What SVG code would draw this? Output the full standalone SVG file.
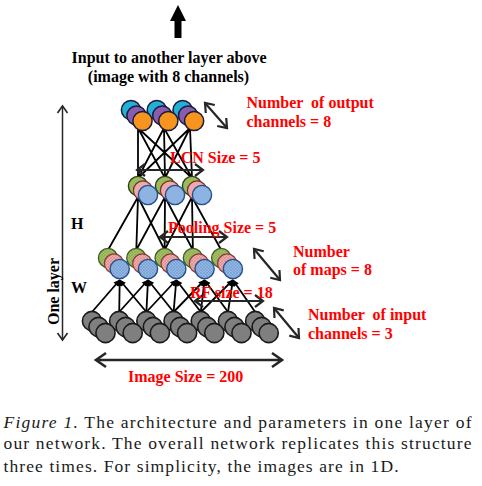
<svg xmlns="http://www.w3.org/2000/svg" width="482" height="486" viewBox="0 0 482 486">
<defs>
<style>
.lbl{font-family:"Liberation Serif","Times New Roman",serif;font-weight:bold;font-size:16px}
.red{fill:#ff0000}
.blk{fill:#000}
.cap{font-family:"Liberation Serif","Times New Roman",serif;font-size:17.5px;fill:#1a1a1a}
.conn{stroke:#000;stroke-width:1.8;fill:none}
.up{stroke:#000;stroke-width:1.8;fill:none;marker-end:url(#ah)}
.dbl{stroke:#262626;stroke-width:2.2;fill:none;marker-start:url(#chev);marker-end:url(#chev)}
.dblb{stroke:#262626;stroke-width:2.6;fill:none;marker-start:url(#chevb);marker-end:url(#chevb)}
.vline{stroke:#262626;stroke-width:1.5;fill:none;marker-start:url(#chevs);marker-end:url(#chevs)}
.cy{fill:#22b0d8;stroke:#1b1b3a;stroke-width:1.5}
.pu{fill:#8a5cb0;stroke:#1b1b3a;stroke-width:1.5}
.or{fill:#f7941e;stroke:#1b1b3a;stroke-width:1.5}
.gr{fill:#9bbb59;stroke:#2d3d1a;stroke-width:1.4}
.pk{fill:#eeaaaa;stroke:#7a3030;stroke-width:1.2}
.bl{fill:#8db3e2;stroke:#24508a;stroke-width:1.4}
.hgr{fill:url(#pg);stroke:#3f5a22;stroke-width:1.3}
.hpk{fill:url(#pp);stroke:#8a3a3a;stroke-width:1.2}
.hbl{fill:url(#pb);stroke:#24508a;stroke-width:1.4}
.gy{fill:#7f7f7f;stroke:#1a1a1a;stroke-width:1.6}
</style>
<marker id="chev" viewBox="-11 -8 14 16" refX="0" refY="0" markerWidth="14" markerHeight="16" markerUnits="userSpaceOnUse" orient="auto-start-reverse" overflow="visible"><path d="M-8,-6 L0,0 L-8,6" fill="none" stroke="#262626" stroke-width="2.2"/></marker>
<marker id="chevb" viewBox="-12 -9 15 18" refX="0" refY="0" markerWidth="15" markerHeight="18" markerUnits="userSpaceOnUse" orient="auto-start-reverse" overflow="visible"><path d="M-10,-7 L0,0 L-10,7" fill="none" stroke="#262626" stroke-width="2.6"/></marker>
<marker id="chevs" viewBox="-9 -6 11 12" refX="0" refY="0" markerWidth="11" markerHeight="12" markerUnits="userSpaceOnUse" orient="auto-start-reverse" overflow="visible"><path d="M-7,-5 L0,0 L-7,5" fill="none" stroke="#262626" stroke-width="1.6"/></marker>
<marker id="ah" viewBox="-8 -4 9 8" refX="0" refY="0" markerWidth="9" markerHeight="8" markerUnits="userSpaceOnUse" orient="auto" overflow="visible"><path d="M-6,-3 L0.5,0 L-6,3 z" fill="#000"/></marker>
<pattern id="pg" width="3" height="3" patternUnits="userSpaceOnUse"><rect width="3" height="3" fill="#a3c064"/><path d="M0,0 L3,3 M3,0 L0,3" stroke="#82a048" stroke-width="0.45"/></pattern>
<pattern id="pp" width="3" height="3" patternUnits="userSpaceOnUse"><rect width="3" height="3" fill="#f0aeae"/><path d="M0,0 L3,3 M3,0 L0,3" stroke="#d07878" stroke-width="0.45"/></pattern>
<pattern id="pb" width="3" height="3" patternUnits="userSpaceOnUse"><rect width="3" height="3" fill="#93b8e4"/><path d="M0,0 L3,3 M3,0 L0,3" stroke="#6690c8" stroke-width="0.45"/></pattern>
</defs>
<rect width="482" height="486" fill="#fff"/>

<polygon id="up-arrow" points="178,5 186,21 181.5,21 181.5,38 174.5,38 174.5,21 170,21" fill="#000"/>

<g id="connectors">
<path class="conn" d="M138,128 L138,178 M138,128 L165,178 M138,128 L192,178 M164,128 L138,178 M164,128 L165,178 M164,128 L192,178 M190,128 L138,178 M190,128 L165,178 M190,128 L192,178"/>
<path class="conn" d="M138,197 L108,250 M138,197 L136.3,250 M138,197 L164.6,250 M165,197 L136.3,250 M165,197 L164.6,250 M165,197 L192.9,250 M192,197 L164.6,250 M192,197 L192.9,250 M192,197 L221.2,250"/>
<path class="up" d="M92,312 L119.7,280"/>
<path class="up" d="M119.2,312 L119.7,280"/>
<path class="up" d="M146.4,312 L119.7,280"/>
<path class="up" d="M119.2,312 L148,280"/>
<path class="up" d="M146.4,312 L148,280"/>
<path class="up" d="M173.6,312 L148,280"/>
<path class="up" d="M146.4,312 L176.3,280"/>
<path class="up" d="M173.6,312 L176.3,280"/>
<path class="up" d="M200.8,312 L176.3,280"/>
<path class="up" d="M173.6,312 L204.6,280"/>
<path class="up" d="M200.8,312 L204.6,280"/>
<path class="up" d="M228,312 L204.6,280"/>
<path class="up" d="M200.8,312 L232.9,280"/>
<path class="up" d="M228,312 L232.9,280"/>
<path class="up" d="M255.2,312 L232.9,280"/>
</g>

<g id="out3"><circle class="cy" cx="182.6" cy="110" r="9.6"/><circle class="pu" cx="188.1" cy="115.5" r="9.6"/><circle class="or" cx="194.1" cy="121" r="9.6"/></g>
<g id="out2"><circle class="cy" cx="156.8" cy="110" r="9.6"/><circle class="pu" cx="162.3" cy="115.5" r="9.6"/><circle class="or" cx="168.3" cy="121" r="9.6"/></g>
<g id="out1"><circle class="cy" cx="131" cy="110" r="9.6"/><circle class="pu" cx="136.5" cy="115.5" r="9.6"/><circle class="or" cx="142.5" cy="121" r="9.6"/></g>

<g id="lcn3"><circle class="gr" cx="192" cy="186" r="9.6"/><circle class="pk" cx="197" cy="190.5" r="9.6"/><circle class="bl" cx="202" cy="195" r="9.6"/></g>
<g id="lcn2"><circle class="gr" cx="165" cy="186" r="9.6"/><circle class="pk" cx="170" cy="190.5" r="9.6"/><circle class="bl" cx="175" cy="195" r="9.6"/></g>
<g id="lcn1"><circle class="gr" cx="138" cy="186" r="9.6"/><circle class="pk" cx="143" cy="190.5" r="9.6"/><circle class="bl" cx="148" cy="195" r="9.6"/></g>

<g id="map5"><circle class="hgr" cx="221.2" cy="258" r="9.6"/><circle class="hpk" cx="227.2" cy="263.5" r="9.6"/><circle class="hbl" cx="232.9" cy="269" r="9.6"/></g>
<g id="map4"><circle class="hgr" cx="192.9" cy="258" r="9.6"/><circle class="hpk" cx="198.9" cy="263.5" r="9.6"/><circle class="hbl" cx="204.6" cy="269" r="9.6"/></g>
<g id="map3"><circle class="hgr" cx="164.6" cy="258" r="9.6"/><circle class="hpk" cx="170.6" cy="263.5" r="9.6"/><circle class="hbl" cx="176.3" cy="269" r="9.6"/></g>
<g id="map2"><circle class="hgr" cx="136.3" cy="258" r="9.6"/><circle class="hpk" cx="142.3" cy="263.5" r="9.6"/><circle class="hbl" cx="148" cy="269" r="9.6"/></g>
<g id="map1"><circle class="hgr" cx="108" cy="258" r="9.6"/><circle class="hpk" cx="114" cy="263.5" r="9.6"/><circle class="hbl" cx="119.7" cy="269" r="9.6"/></g>

<g id="in7"><circle class="gy" cx="255.2" cy="321" r="9.6"/><circle class="gy" cx="261.7" cy="327" r="9.6"/><circle class="gy" cx="268.7" cy="333" r="9.6"/></g>
<g id="in6"><circle class="gy" cx="228" cy="321" r="9.6"/><circle class="gy" cx="234.5" cy="327" r="9.6"/><circle class="gy" cx="241.5" cy="333" r="9.6"/></g>
<g id="in5"><circle class="gy" cx="200.8" cy="321" r="9.6"/><circle class="gy" cx="207.3" cy="327" r="9.6"/><circle class="gy" cx="214.3" cy="333" r="9.6"/></g>
<g id="in4"><circle class="gy" cx="173.6" cy="321" r="9.6"/><circle class="gy" cx="180.1" cy="327" r="9.6"/><circle class="gy" cx="187.1" cy="333" r="9.6"/></g>
<g id="in3"><circle class="gy" cx="146.4" cy="321" r="9.6"/><circle class="gy" cx="152.9" cy="327" r="9.6"/><circle class="gy" cx="159.9" cy="333" r="9.6"/></g>
<g id="in2"><circle class="gy" cx="119.2" cy="321" r="9.6"/><circle class="gy" cx="125.7" cy="327" r="9.6"/><circle class="gy" cx="132.7" cy="333" r="9.6"/></g>
<g id="in1"><circle class="gy" cx="92" cy="321" r="9.6"/><circle class="gy" cx="98.5" cy="327" r="9.6"/><circle class="gy" cx="105.5" cy="333" r="9.6"/></g>

<g id="annotations">
<path class="vline" d="M62.5,106 L62.5,340"/>
<path class="dbl" d="M205,103 L227,128"/>
<path class="dbl" d="M137,170 L203,170"/>
<path class="dbl" d="M160,237 L227,237"/>
<path class="dbl" d="M254,249 L280,280"/>
<path class="dbl" d="M195,301 L263,301"/>
<path class="dbl" d="M274,308 L299,338"/>
<path class="dblb" d="M96,360 L282,360"/>
</g>

<g id="labels">
<text class="lbl blk" x="169" y="63" text-anchor="middle">Input to another layer above</text>
<text class="lbl blk" x="168.5" y="81.5" text-anchor="middle">(image with 8 channels)</text>
<text class="lbl red" x="246.5" y="108" xml:space="preserve">Number  of output</text>
<text class="lbl red" x="246.5" y="126.5">channels = 8</text>
<text class="lbl red" x="170" y="162.5">LCN Size = 5</text>
<text class="lbl red" x="168" y="232.5">Pooling Size = 5</text>
<text class="lbl red" x="293" y="256.5">Number</text>
<text class="lbl red" x="293" y="275">of maps = 8</text>
<text class="lbl red" x="190" y="298">RF size = 18</text>
<text class="lbl red" x="308" y="320" xml:space="preserve">Number  of input</text>
<text class="lbl red" x="308" y="339">channels = 3</text>
<text class="lbl red" x="128" y="381.5">Image Size = 200</text>
<text class="lbl blk" x="71" y="229">H</text>
<text class="lbl blk" x="71" y="292.5">W</text>
<text class="lbl blk" transform="translate(59,291.5) rotate(-90)" text-anchor="middle">One layer</text>
</g>

<g id="caption">
<text class="cap" x="3.5" y="427.5" textLength="468" lengthAdjust="spacing"><tspan font-style="italic">Figure 1.</tspan> The architecture and parameters in one layer of</text>
<text class="cap" x="3.5" y="449" textLength="468" lengthAdjust="spacing">our network. The overall network replicates this structure</text>
<text class="cap" x="3.5" y="471.5" textLength="395" lengthAdjust="spacing">three times. For simplicity, the images are in 1D.</text>
</g>
</svg>
